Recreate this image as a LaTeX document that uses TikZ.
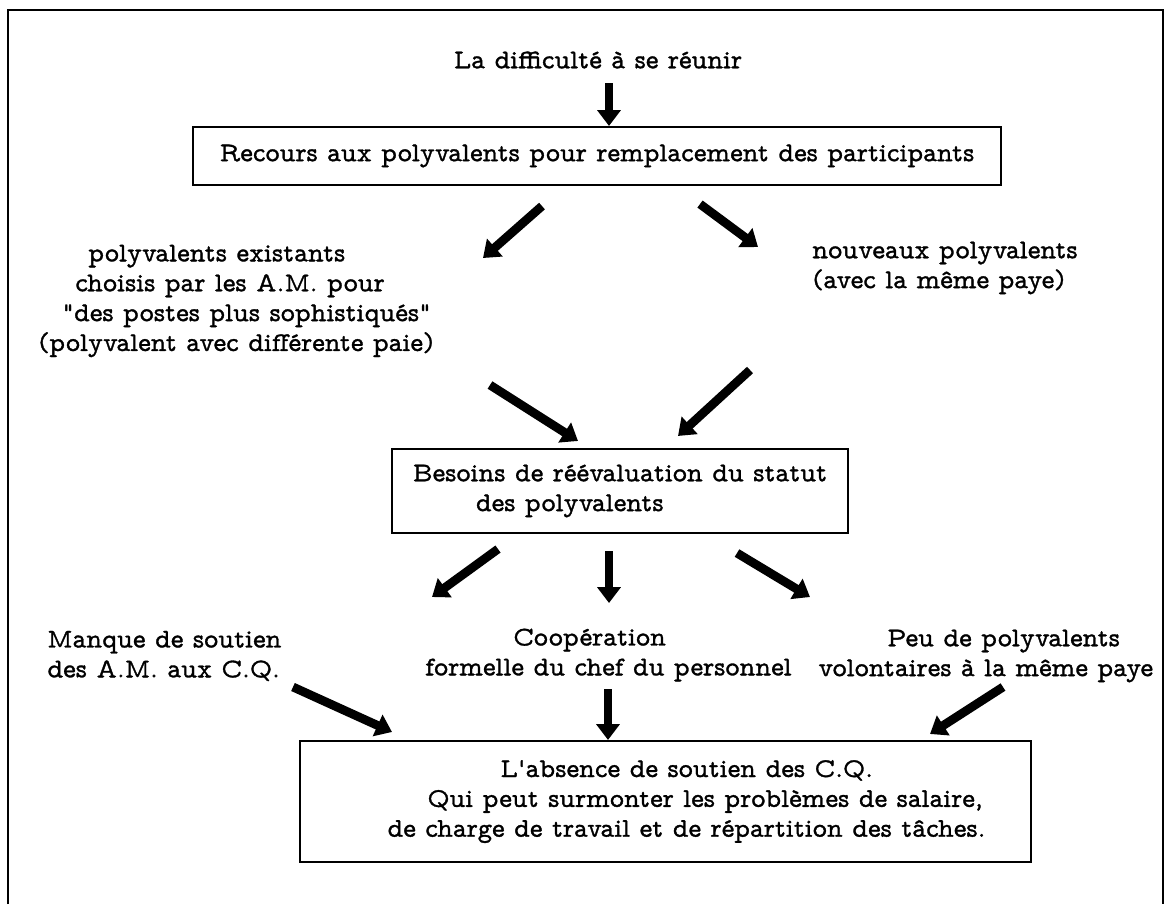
\documentclass[tikz,border=0pt]{standalone}
\usepackage{fontspec}
\setmainfont{lmmonoprop10-regular.otf}[Ligatures=TeXOff, FakeBold=1.2]
\usepackage{tikz}
\usetikzlibrary{positioning,arrows.meta,calc}

\begin{document}
\begin{tikzpicture}[
  x=0.02cm, y=-0.02cm,
  box/.style={rectangle, draw, line width=1.2pt, align=center, font=\fontsize{15.4pt}{17pt}\selectfont, inner sep=0pt},
  lbl/.style={align=center, font=\fontsize{15.4pt}{17pt}\selectfont, inner sep=0pt},
  bigarrow/.style={draw, line width=5pt, -{Triangle[length=9pt,width=13pt]}}
]
  \useasboundingbox (0,0) rectangle (1175,904);
  \draw[line width=1.2pt] (8,904) -- (8,10) -- (1163,10) -- (1163,904);

  % Nodes
  \node[lbl] (diff) at (598,60) {La difficulté à se réunir};

  \node[box, minimum width=16.16cm, minimum height=1.16cm] (recours) at (597,156)
    {Recours aux polyvalents pour remplacement des participants};

  \node[lbl, align=left, anchor=west] (exist) at (38,301) {
    \hspace*{1cm}polyvalents existants\\
    \hspace*{0.74cm}choisis par les A.M. pour\\
    \hspace*{0.48cm}"des postes plus sophistiqués"\\
    (polyvalent avec différente paie)
  };

  \node[lbl, align=left, anchor=west] (nouveaux) at (812,268) {
    nouveaux polyvalents\\
    (avec la même paye)
  };

  \node[box, align=left, minimum width=9.12cm, minimum height=1.68cm] (besoins) at (620,491) {
    Besoins de réévaluation du statut\\
    \hspace*{1.26cm}des polyvalents
  };

  \node[lbl, align=left, anchor=west] (manque) at (47,656) {
    Manque de soutien\\
    des A.M. aux C.Q.
  };

  \node[lbl, align=left, anchor=west] (coop) at (425,655) {
    \hspace*{1.76cm}Coopération\\
    formelle du chef du personnel
  };

  \node[lbl, align=left, anchor=west] (peu) at (818,656) {
    \hspace*{1.38cm}Peu de polyvalents\\
    volontaires à la même paye
  };

  \node[box, align=left, minimum width=14.62cm, minimum height=2.42cm] (absence) at (665.5,801.5) {
    \hspace*{3.1cm}L'absence de soutien des C.Q.\\
    \hspace*{1.64cm}Qui peut surmonter les problèmes de salaire,\\
    \hspace*{0.84cm}de charge de travail et de répartition des tâches.
  };

  % Arrows
  \path[bigarrow] ($(diff.center)+(11,23)$) -- ($(recours.north)+(12,0)$);
  \path[bigarrow] ($(recours.south)+(-55,20)$) -- ($(exist.west)+(445,-43)$);
  \path[bigarrow] ($(recours.south)+(103,18)$) -- ($(nouveaux.west)+(-54,-21)$);
  \path[bigarrow] ($(exist.west)+(452,84)$) -- ($(besoins.north)+(-42,-7)$);
  \path[bigarrow] ($(nouveaux.west)+(-62,102)$) -- ($(besoins.north)+(58,-12)$);
  \path[bigarrow] ($(besoins.south)+(-122,15)$) -- ($(manque.west)+(385,-59)$);
  \path[bigarrow] ($(besoins.south)+(-11,17)$) -- ($(coop.west)+(184,-52)$);
  \path[bigarrow] ($(besoins.south)+(117,19)$) -- ($(peu.west)+(-8,-59)$);
  \path[bigarrow] ($(manque.west)+(246,31)$) -- ($(absence.north)+(-273.5,-8)$);
  \path[bigarrow] ($(coop.west)+(183,34)$) -- ($(absence.north)+(-57.5,0)$);
  \path[bigarrow] ($(peu.west)+(185,31)$) -- ($(absence.north)+(264.5,-6)$);

\end{tikzpicture}
\end{document}
